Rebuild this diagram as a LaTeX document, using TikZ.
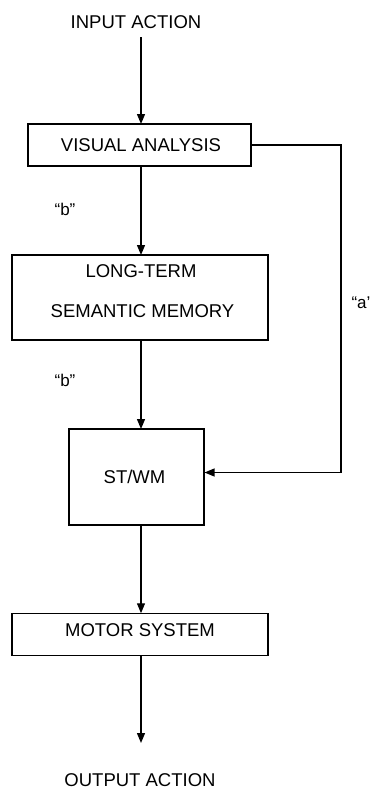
\documentclass[tikz,border=0pt]{standalone}
\usepackage{fontspec}
\setmainfont{Liberation Sans}
\usetikzlibrary{arrows.meta}
\begin{document}
\begin{tikzpicture}[x=1pt,y=-1pt,
  box/.style={draw, line width=1.1pt, inner sep=0pt, minimum width=#1},
  txt/.style={font=\fontsize{18.5}{20}\selectfont, inner sep=0pt},
  lbl/.style={font=\fontsize{17}{19}\selectfont, inner sep=0pt},
  conn/.style={line width=1.3pt, -{Triangle[length=10pt,width=8pt]}}]
\useasboundingbox (0,0) rectangle (377,790);
% boxes
\node[box=223pt, minimum height=42pt] (va) at (139.5,145) {};
\node[box=256pt, minimum height=85pt] (lt) at (140,297.5) {};
\node[box=135pt, minimum height=96pt] (st) at (136.5,477) {};
\node[box=256pt, minimum height=42.5pt] (ms) at (140,634.5) {};
% texts
\node[txt] (in) at (136,22) {INPUT ACTION};
\node[txt] at (141,145) {VISUAL ANALYSIS};
\node[txt] at (141,271) {LONG-TERM};
\node[txt] at (142.5,311) {SEMANTIC MEMORY};
\node[txt] at (134.5,477) {ST/WM};
\node[txt] at (140,630) {MOTOR SYSTEM};
\node[txt] (out) at (140,780.5) {OUTPUT ACTION};
\node[lbl] at (65,209) {“b”};
\node[lbl] at (65,380) {“b”};
\node[lbl] at (361,303) {“a’};
% coordinates
\coordinate (inend) at (141,37);
\coordinate (outend) at (141,743);
\coordinate (c1) at (341,145);
\coordinate (c2) at (341,472.5);
% connectors
\draw[conn] (inend) -- (141,124);
\draw[conn] (141,166) -- (141,255);
\draw[conn] (141,340) -- (141,429);
\draw[conn] (141,525) -- (141,613.25);
\draw[conn] (141,655.75) -- (outend);
\draw[conn] (va.east |- c1) -- (c1) -- (c2) -- (st.east |- c2);
\end{tikzpicture}
\end{document}
